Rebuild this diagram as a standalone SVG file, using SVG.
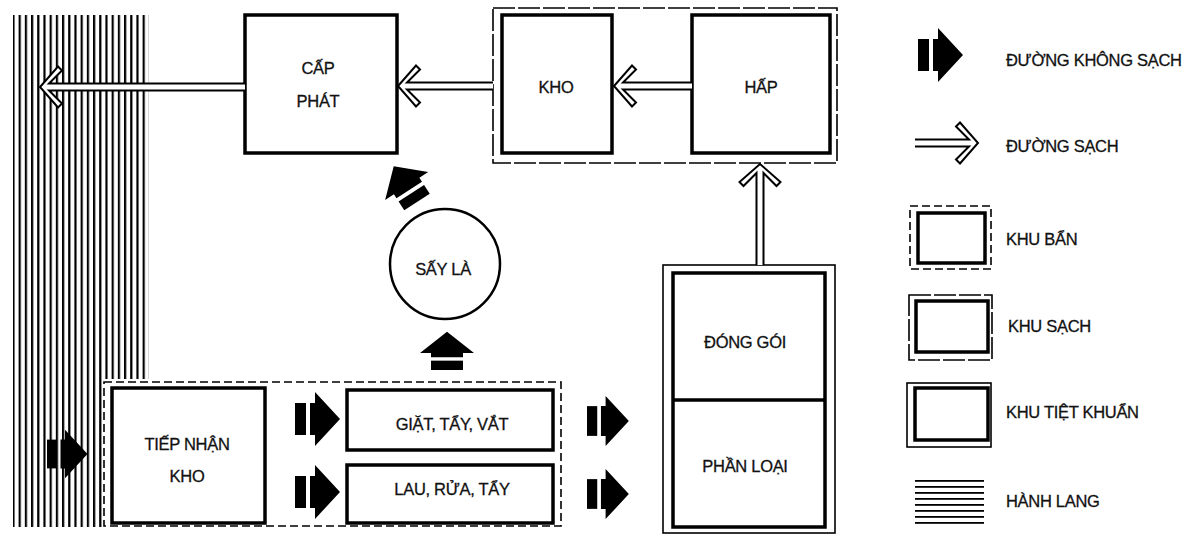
<svg xmlns="http://www.w3.org/2000/svg" xmlns:xlink="http://www.w3.org/1999/xlink" width="1194" height="535" viewBox="0 0 1194 535">
<style>
  .box{fill:#fff;stroke:#000;stroke-width:3.5}
  .thin{fill:none;stroke:#000;stroke-width:1.6}
  .dash{fill:none;stroke:#000;stroke-width:1.6;stroke-dasharray:8 4}
  .ldash{fill:none;stroke:#000;stroke-width:1.6;stroke-dasharray:22 3}
  .clean{fill:#fff;stroke:#000;stroke-width:2;stroke-linejoin:miter}
  .t{font-family:"Liberation Sans",Arial,sans-serif;font-size:16.5px;letter-spacing:-0.3px;fill:#111;stroke:#111;stroke-width:0.3}
  .c{text-anchor:middle}
</style>
<defs>
  <pattern id="vhatch" patternUnits="userSpaceOnUse" width="6.2" height="10">
    <rect x="0" y="0" width="2.2" height="10" fill="#000"/>
  </pattern>
  <pattern id="hhatch" patternUnits="userSpaceOnUse" width="10" height="6">
    <rect x="0" y="0" width="10" height="1.8" fill="#000"/>
  </pattern>
  <g id="dirty">
    <rect x="0" y="-16" width="11" height="32" fill="#000"/>
    <polygon points="15,-16 20,-16 20,-27 45,0 20,27 20,16 15,16" fill="#000"/>
  </g>
</defs>
<rect width="1194" height="535" fill="#fff"/>

<g id="corridor">
  <path d="M13,15 H149 V379 H103 V527 H13 Z" fill="url(#vhatch)"/>
</g>

<g id="dirty-zone">
  <rect class="dash" x="104" y="382" width="457" height="144"/>
</g>

<g id="clean-zone">
  <rect class="ldash" x="493" y="8" width="344" height="155"/>
</g>

<g id="cap-phat">
  <rect class="box" x="245" y="15" width="152" height="138"/>
  <text class="t c" x="318" y="74">CẤP</text>
  <text class="t c" x="318" y="107">PHÁT</text>
</g>

<g id="kho">
  <rect class="box" x="502" y="15" width="110" height="138"/>
  <text class="t c" x="556" y="93">KHO</text>
</g>

<g id="hap">
  <rect class="box" x="692" y="15" width="138" height="138"/>
  <text class="t c" x="761" y="93">HẤP</text>
</g>

<g id="say-la">
  <circle cx="445" cy="264" r="55" fill="#fff" stroke="#000" stroke-width="2.5"/>
  <text class="t c" x="443" y="275">SẤY LÀ</text>
</g>

<g id="tiep-nhan-kho">
  <rect class="box" x="112" y="388" width="153" height="135"/>
  <text class="t c" x="187" y="450">TIẾP NHẬN</text>
  <text class="t c" x="187" y="482">KHO</text>
</g>

<g id="giat-tay-vat">
  <rect class="box" x="347" y="390" width="206" height="60"/>
  <text class="t c" x="452" y="430">GIẶT, TẨY, VẮT</text>
</g>

<g id="lau-rua-tay">
  <rect class="box" x="347" y="465" width="206" height="58"/>
  <text class="t c" x="452" y="495">LAU, RỬA, TẨY</text>
</g>

<g id="dong-goi-phan-loai">
  <rect class="thin" x="663" y="265" width="172" height="268"/>
  <rect class="box" x="673" y="273" width="152" height="254"/>
  <line x1="673" y1="400" x2="825" y2="400" stroke="#000" stroke-width="3.5"/>
  <text class="t c" x="745" y="348">ĐÓNG GÓI</text>
  <text class="t c" x="745" y="472">PHẦN LOẠI</text>
</g>

<g id="connectors">
  <path class="clean" d="M245,83.5 L49,83.5 L62,70.5 L58,66.5 L40,87 L58,107.5 L62,103.5 L49,90.5 L245,90.5"/>
  <path class="clean" d="M493,82.5 L407,82.5 L420,69.5 L416,65.5 L398,86 L416,106.5 L420,102.5 L407,89.5 L493,89.5"/>
  <path class="clean" d="M692,82.5 L623,82.5 L636,69.5 L632,65.5 L614,86 L632,106.5 L636,102.5 L623,89.5 L692,89.5"/>
  <path class="clean" d="M756.5,265 L756.5,173 L743.5,186 L739.5,182 L760,164 L780.5,182 L776.5,186 L763.5,173 L763.5,265"/>
  <use xlink:href="#dirty" transform="translate(47,454) scale(0.9)"/>
  <use xlink:href="#dirty" transform="translate(295,419)"/>
  <use xlink:href="#dirty" transform="translate(295,492)"/>
  <use xlink:href="#dirty" transform="translate(587,421) scale(0.93)"/>
  <use xlink:href="#dirty" transform="translate(587,494) scale(0.93)"/>
  <use xlink:href="#dirty" transform="translate(447,370) rotate(-90) scale(0.85,1)"/>
  <use xlink:href="#dirty" transform="translate(417,202) rotate(-123) scale(0.95)"/>
</g>

<g id="legend">
  <use xlink:href="#dirty" transform="translate(918,55)"/>
  <text class="t" x="1006" y="66">ĐƯỜNG KHÔNG SẠCH</text>
  <path class="clean" d="M915,139.5 L969,139.5 L956,126.5 L960,122.5 L978,143 L960,163.5 L956,159.5 L969,146.5 L915,146.5"/>
  <text class="t" x="1006" y="152">ĐƯỜNG SẠCH</text>
  <rect class="dash" x="910" y="206" width="81" height="63"/>
  <rect class="box" x="918" y="213" width="67" height="50"/>
  <text class="t" x="1006" y="245">KHU BẨN</text>
  <rect class="ldash" x="909" y="295" width="83" height="65"/>
  <rect class="box" x="916" y="301" width="72" height="51"/>
  <text class="t" x="1008" y="332">KHU SẠCH</text>
  <rect class="thin" x="907" y="383" width="84" height="64"/>
  <rect class="box" x="915" y="388" width="73" height="52"/>
  <text class="t" x="1006" y="418">KHU TIỆT KHUẨN</text>
  <rect x="915" y="478" width="69" height="46" fill="url(#hhatch)"/>
  <text class="t" x="1006" y="507">HÀNH LANG</text>
</g>
</svg>
